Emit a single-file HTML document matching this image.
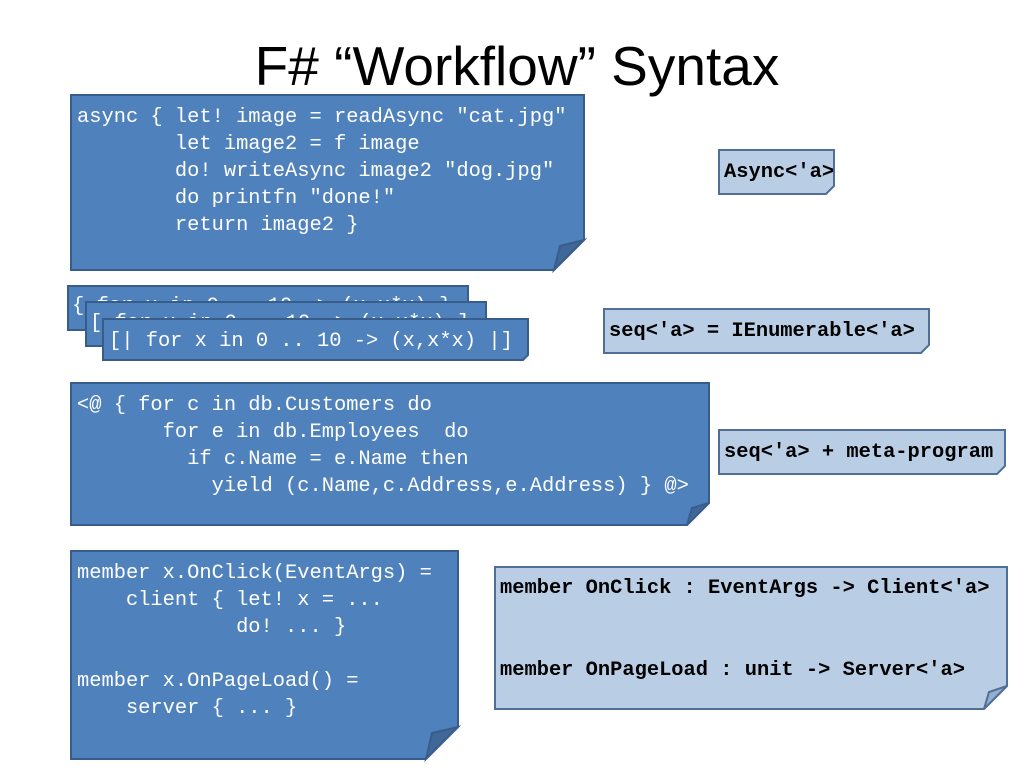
<!DOCTYPE html>
<html><head><meta charset="utf-8"><style>
html,body{margin:0;padding:0;background:#fff;}
svg{display:block}
.c{font-family:"Liberation Mono","DejaVu Sans Mono",monospace;font-size:20.4px;fill:#fff;white-space:pre}
.b{font-family:"Liberation Mono","DejaVu Sans Mono",monospace;font-size:20.4px;font-weight:bold;fill:#000;white-space:pre}
.d{fill:#4f81bd;stroke:#385d8a;stroke-width:2}
.l{fill:#b9cde5;stroke:#4f6f96;stroke-width:2}
.f{fill:#3f6798;stroke:#385d8a;stroke-width:2}
.fl{fill:#94aed0;stroke:#4f6f96;stroke-width:2}
</style></head><body>
<svg width="1024" height="768" viewBox="0 0 1024 768" xmlns="http://www.w3.org/2000/svg">
<text x="517" y="85" text-anchor="middle" font-family="Liberation Sans, sans-serif" font-size="55" fill="#000">F# “Workflow” Syntax</text>

<!-- box 1 -->
<path class="d" d="M71,95 H584 V240 L554,270 H71 Z"/>
<path class="f" d="M584,240 L554,270 L560,246 Z"/>
<text class="c" x="77" y="122">async { let! image = readAsync "cat.jpg"</text>
<text class="c" x="77" y="149">        let image2 = f image</text>
<text class="c" x="77" y="176">        do! writeAsync image2 "dog.jpg"</text>
<text class="c" x="77" y="203">        do printfn "done!"</text>
<text class="c" x="77" y="230">        return image2 }</text>

<path class="l" d="M719,150 H834 V186 L826,194 H719 Z"/>
<text class="b" x="724" y="177" font-size="17">Async&lt;'a&gt;</text>

<!-- stacked -->
<path class="d" d="M68,286 H468 V330 H68 Z"/>
<text class="c" x="72" y="311">{ for x in 0 .. 10 -&gt; (x,x*x) }</text>
<path class="d" d="M86,302 H486 V346 H86 Z"/>
<text class="c" x="90" y="328">[ for x in 0 .. 10 -&gt; (x,x*x) ]</text>
<path class="d" d="M103,319 H528 V355 L523,360 H103 Z"/>
<text class="c" x="109" y="346">[| for x in 0 .. 10 -&gt; (x,x*x) |]</text>

<path class="l" d="M604,309 H929 V345 L921,353 H604 Z"/>
<text class="b" x="609" y="336" font-size="17">seq&lt;'a&gt; = IEnumerable&lt;'a&gt;</text>

<!-- box 3 -->
<path class="d" d="M71,383 H709 V503 L687,525 H71 Z"/>
<path class="f" d="M709,503 L687,525 L692,508 Z"/>
<text class="c" x="77" y="410">&lt;@ { for c in db.Customers do</text>
<text class="c" x="77" y="437">       for e in db.Employees  do</text>
<text class="c" x="77" y="464">         if c.Name = e.Name then</text>
<text class="c" x="77" y="491">           yield (c.Name,c.Address,e.Address) } @&gt;</text>

<path class="l" d="M719,430 H1005 V466 L997,474 H719 Z"/>
<text class="b" x="724" y="457" font-size="17">seq&lt;'a&gt; + meta-program</text>

<!-- box 4 -->
<path class="d" d="M71,551 H458 V727 L426,759 H71 Z"/>
<path class="f" d="M458,727 L426,759 L432,733 Z"/>
<text class="c" x="77" y="578">member x.OnClick(EventArgs) =</text>
<text class="c" x="77" y="605">    client { let! x = ...</text>
<text class="c" x="77" y="632">             do! ... }</text>
<text class="c" x="77" y="686">member x.OnPageLoad() =</text>
<text class="c" x="77" y="713">    server { ... }</text>

<path class="l" d="M495,567 H1007 V686 L984,709 H495 Z"/>
<path class="fl" d="M1007,686 L984,709 L989,692 Z"/>
<text class="b" x="500" y="593" font-size="17.5">member OnClick : EventArgs -&gt; Client&lt;'a&gt;</text>
<text class="b" x="500" y="675" font-size="17.5">member OnPageLoad : unit -&gt; Server&lt;'a&gt;</text>
</svg>
</body></html>
